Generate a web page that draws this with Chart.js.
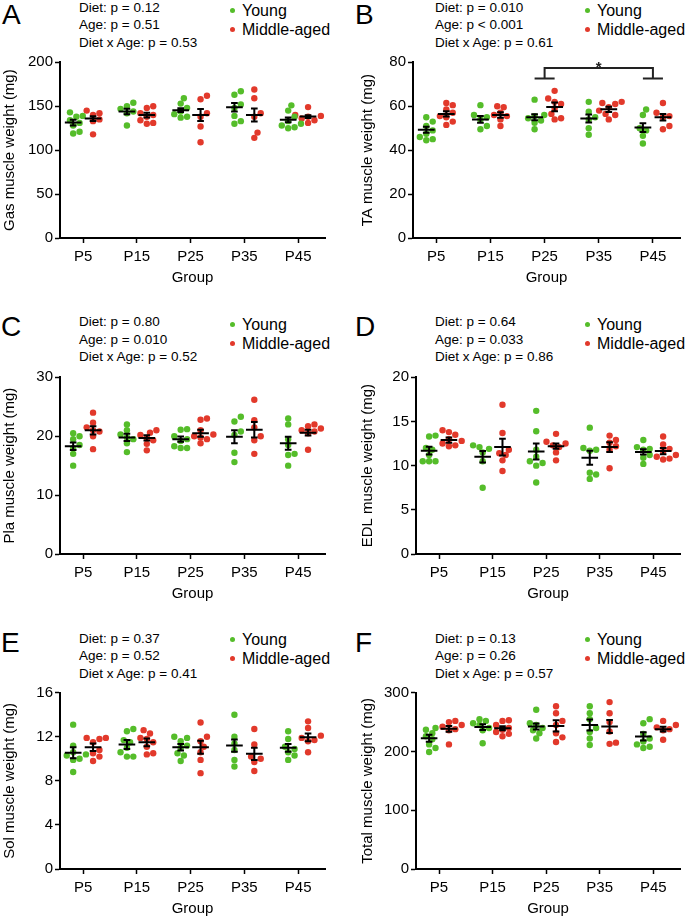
<!DOCTYPE html>
<html>
<head>
<meta charset="utf-8">
<script src="https://cdn.jsdelivr.net/npm/chart.js@4.4.1/dist/chart.umd.min.js"></script>
<style>
  body { margin: 0; width: 685px; height: 919px; position: relative; background: #fff; overflow: hidden;
         font-family: Arial, 'Liberation Sans', sans-serif; color: #000; }
  .box { position: absolute; }
  .letter { position: absolute; font-size: 28px; line-height: 28px; }
  .stats { position: absolute; font-size: 13.5px; line-height: 17.5px; white-space: nowrap; }
  .leg { position: absolute; font-size: 16px; line-height: 19px; white-space: nowrap; }
  .dot { position: absolute; width: 5px; height: 5px; border-radius: 50%; }
</style>
</head>
<body>
<script>
// groups on the x axis
const groups = ['P5', 'P15', 'P25', 'P35', 'P45'];

// A - Gas
const gasYoung = [
  [143, 139, 138, 134, 131, 128, 121, 119],
  [154, 150, 147, 144, 142, 128],
  [159, 153, 148, 144, 141, 138, 137],
  [167, 163, 152, 148, 139, 133, 130],
  [151, 145, 138, 133, 130, 128, 126, 125]
];
const gasMiddle = [
  [145, 142, 140, 135, 133, 118],
  [150, 148, 142, 140, 138, 134, 131, 130],
  [162, 158, 142, 138, 127, 109],
  [169, 159, 142, 138, 120, 114],
  [149, 140, 139, 138, 136, 134, 131]
];
const gasMeanYoung = [131.4, 144, 145.5, 148.8, 134.5];
const gasSemYoung = [3.2, 3.0, 2.2, 4.8, 2.8];
const gasMeanMiddle = [135.9, 140, 140, 140, 138.2];
const gasSemMiddle = [2.7, 2.7, 6.8, 7.5, 1.5];

// B - TA
const taYoung = [
  [55, 53, 51, 49, 47.5, 46, 45, 44.5],
  [60.5, 56, 55, 54, 51, 49.5],
  [63, 56, 55.5, 54.5, 53.5, 52.5, 49.5],
  [62, 57.5, 55, 54, 50, 47],
  [58.5, 56, 50, 49, 46.5, 43]
];
const taMiddle = [
  [61.5, 60.5, 58.5, 57, 55.5, 55, 53, 51.5],
  [60, 59.5, 57, 56, 55.5, 54, 51],
  [67, 63.5, 62, 61, 59, 56.5, 54.5, 54],
  [62, 61.5, 61, 59.5, 58, 56.5, 56, 54],
  [61.5, 57, 55.5, 55, 51, 49.5]
];
const taMeanYoung = [49.3, 54, 55, 54.4, 50.3];
const taSemYoung = [1.4, 1.5, 1.4, 1.8, 2.0];
const taMeanMiddle = [56.5, 56, 59.7, 58.6, 55];
const taSemMiddle = [1.2, 1.2, 2.0, 1.2, 1.5];

// C - Pla
const plaYoung = [
  [20.5, 20, 19.5, 18.5, 18, 17, 15],
  [22, 21, 20.3, 19.8, 19.5, 18.8, 17.3],
  [21.2, 21.1, 20, 19.5, 19.2, 18.3, 18, 18],
  [23.3, 22.5, 20.8, 20.2, 17.2, 15.6],
  [23, 22, 19.5, 18.5, 17, 16.8, 15]
];
const plaMiddle = [
  [24, 22.3, 21.5, 21, 20.8, 20, 17.8],
  [21, 20.6, 20.2, 19.7, 19.3, 18.7, 17.6],
  [23, 22.8, 21, 20.3, 20, 19.8, 19.5, 18.8],
  [26.2, 22.7, 21.5, 20, 19.3, 17],
  [22, 21.7, 21.3, 21, 20.8, 20.5, 17.7]
];
const plaMeanYoung = [18.3, 19.8, 19.5, 19.9, 18.8];
const plaSemYoung = [0.65, 0.6, 0.45, 1.1, 1.1];
const plaMeanMiddle = [21.0, 19.7, 20.5, 21.1, 20.6];
const plaSemMiddle = [0.7, 0.45, 0.6, 1.3, 0.5];

// D - EDL
const edlYoung = [
  [13.3, 13.4, 12, 11.8, 11.2, 10.5, 10.5, 10.5],
  [12.3, 12.1, 11.9, 11.5, 10.5, 7.5],
  [16.2, 13.9, 11.8, 11, 10.5, 10.3, 10, 8.1],
  [14.3, 12, 11.8, 11.7, 9.2, 9, 8.5],
  [12.9, 12.1, 11.9, 11.8, 11.2, 10.9, 10.2]
];
const edlMiddle = [
  [14, 13.8, 13.5, 13, 12.8, 12.5, 12.3, 12.2],
  [16.9, 13.7, 11.8, 11.4, 11.2, 10.6, 9.4],
  [13.6, 12.7, 12.5, 12.3, 12.1, 11.5, 10.6],
  [13.4, 12.9, 12.6, 12.2, 11.8, 9.7],
  [13.3, 12.4, 11.9, 11.6, 11.2, 11, 10.8, 10.7]
];
const edlMeanYoung = [11.7, 11.0, 11.6, 10.9, 11.55];
const edlSemYoung = [0.45, 0.65, 0.9, 0.8, 0.3];
const edlMeanMiddle = [12.9, 12.1, 12.2, 12.1, 11.65];
const edlSemMiddle = [0.3, 0.95, 0.3, 0.55, 0.35];

// E - Sol
const solYoung = [
  [13.1, 11.2, 10.6, 10.4, 10.3, 10, 9.9, 8.8],
  [12.7, 12.5, 11.7, 11.5, 11, 10.6, 10.2, 10.2],
  [12, 11.9, 11.6, 11.2, 11, 10.5, 10.3, 9.8],
  [14, 12, 11.4, 10.8, 9.9, 9.3],
  [12.5, 11.8, 11.1, 10.9, 10.6, 10.3, 9.9]
];
const solMiddle = [
  [11.9, 11.9, 11.8, 11.5, 10.8, 10.5, 10.2, 9.8],
  [12.6, 12.3, 11.9, 11.8, 11.5, 11.1, 10.5, 10.4],
  [13.3, 12, 11.6, 11.1, 10.6, 9.9, 8.7],
  [12.7, 11.3, 10.2, 10, 9.7, 8.9],
  [13.4, 12.8, 12.1, 11.9, 11.7, 11.6, 10.6]
];
const solMeanYoung = [10.55, 11.3, 11.05, 11.2, 11.0];
const solSemYoung = [0.5, 0.4, 0.3, 0.55, 0.35];
const solMeanMiddle = [11.05, 11.5, 11.05, 10.45, 11.95];
const solSemMiddle = [0.35, 0.35, 0.6, 0.55, 0.35];

// F - Total
const totYoung = [
  [240, 237, 231, 226, 221, 212, 206, 199],
  [255, 252, 248, 245, 240, 236, 214],
  [271, 248, 245, 240, 236, 231, 222],
  [277, 265, 255, 240, 233, 222, 211],
  [255, 248, 230, 222, 217, 212, 208, 206]
];
const totMiddle = [
  [252, 250, 245, 242, 238, 236, 212],
  [253, 252, 245, 240, 237, 233, 230, 226],
  [277, 265, 252, 245, 231, 224, 216],
  [284, 265, 250, 234, 215, 213],
  [252, 245, 241, 238, 236, 220]
];
const totMeanYoung = [222.5, 241.5, 242.5, 245, 225.5];
const totSemYoung = [6, 5, 5, 9.5, 7];
const totMeanMiddle = [238.5, 239.5, 243.5, 242.5, 238];
const totSemMiddle = [5, 3.5, 9.5, 11, 4];

// p-value annotations
const gasStats = ['Diet: p = 0.12', 'Age: p = 0.51', 'Diet x Age: p = 0.53'];
const taStats = ['Diet: p = 0.010', 'Age: p < 0.001', 'Diet x Age: p = 0.61'];
const plaStats = ['Diet: p = 0.80', 'Age: p = 0.010', 'Diet x Age: p = 0.52'];
const edlStats = ['Diet: p = 0.64', 'Age: p = 0.033', 'Diet x Age: p = 0.86'];
const solStats = ['Diet: p = 0.37', 'Age: p = 0.52', 'Diet x Age: p = 0.41'];
const totStats = ['Diet: p = 0.13', 'Age: p = 0.26', 'Diet x Age: p = 0.57'];

// significance bracket in panel B (P25 vs P45)
const taSigGroups = [2, 4];
const taSigLabel = '*';

const seriesNames = ['Young', 'Middle-aged'];
const GREEN = '#55bd2a';
const RED = '#e2392b';
const FONT = "Arial, 'Liberation Sans', sans-serif";
const SHIFT = [-0.185, 0.185];   // young left, middle-aged right of the tick
const PX_PER_CAT = 53.8;
const PLOT_H = 176.5;

// simple beeswarm: spread dots with close values sideways (returns category-unit offsets)
function swarm(vals, yMax) {
  const k = PLOT_H / yMax;
  const placed = [];
  const out = new Array(vals.length);
  const order = vals.map((v, i) => i).sort((a, b) => vals[a] - vals[b]);
  order.forEach(i => {
    const py = vals[i] * k;
    let dx = 0;
    for (let j = 0; j < 14; j++) {
      dx = j === 0 ? 0 : (j % 2 ? 1 : -1) * Math.ceil(j / 2) * 3.2;
      const hit = placed.some(p => (p.x - dx) ** 2 + (p.y - py) ** 2 < 5.8 * 5.8);
      if (!hit) break;
    }
    placed.push({ x: dx, y: py });
    out[i] = dx / PX_PER_CAT;
  });
  return out;
}

function points(sets, si, yMax) {
  const pts = [];
  sets.forEach((vals, g) => {
    const off = swarm(vals, yMax);
    vals.forEach((v, i) => pts.push({ x: g + SHIFT[si] + off[i], y: v }));
  });
  return pts;
}

function addText(cls, left, top, text) {
  const d = document.createElement('div');
  d.className = cls;
  d.style.left = left + 'px';
  d.style.top = top + 'px';
  d.textContent = text;
  document.body.appendChild(d);
}

function makePanel(p) {
  // panel letter, stats and legend as plain text
  addText('letter', p.letterX, p.letterY, p.letter);
  p.stats.forEach((s, i) => addText('stats', p.statsX, p.statsY + i * 17.5, s));
  [GREEN, RED].forEach((c, i) => {
    const cy = p.legY + i * 19;
    const d = document.createElement('div');
    d.className = 'dot';
    d.style.background = c;
    d.style.left = (p.legX - 2.5) + 'px';
    d.style.top = (cy - 2.5) + 'px';
    document.body.appendChild(d);
    addText('leg', p.legX + 10, cy - 9.5, seriesNames[i]);
  });

  const box = document.createElement('div');
  box.className = 'box';
  box.style.left = p.left + 'px';
  box.style.top = p.top + 'px';
  const canvas = document.createElement('canvas');
  canvas.width = p.width;
  canvas.height = p.height;
  box.appendChild(canvas);
  document.body.appendChild(box);

  const meanBars = {
    id: 'meanBars' + p.letter,
    afterDatasetsDraw(chart) {
      const { ctx, scales: { x, y } } = chart;
      const unit = x.getPixelForValue(1) - x.getPixelForValue(0);
      ctx.save();
      ctx.strokeStyle = '#000';
      ctx.lineWidth = 2;
      [[p.meanY, p.semY], [p.meanM, p.semM]].forEach(([means, sems], si) => {
        means.forEach((m, g) => {
          const cx = x.getPixelForValue(g + SHIFT[si]);
          const ym = y.getPixelForValue(m);
          const yt = y.getPixelForValue(m + sems[g]);
          const yb = y.getPixelForValue(m - sems[g]);
          const hw = 0.155 * unit, cw = 0.062 * unit;
          ctx.beginPath();
          ctx.moveTo(cx - hw, ym); ctx.lineTo(cx + hw, ym);
          ctx.moveTo(cx, yt); ctx.lineTo(cx, yb);
          ctx.moveTo(cx - cw, yt); ctx.lineTo(cx + cw, yt);
          ctx.moveTo(cx - cw, yb); ctx.lineTo(cx + cw, yb);
          ctx.stroke();
        });
      });
      if (p.sig) {
        const [g1, g2] = p.sig.groups;
        const yTop = y.getPixelForValue(p.sig.top);
        const yLow = y.getPixelForValue(p.sig.low);
        ctx.strokeStyle = '#222';
        ctx.beginPath();
        ctx.moveTo(x.getPixelForValue(g1), yLow);
        ctx.lineTo(x.getPixelForValue(g1), yTop);
        ctx.lineTo(x.getPixelForValue(g2), yTop);
        ctx.lineTo(x.getPixelForValue(g2), yLow);
        [g1, g2].forEach(g => {
          ctx.moveTo(x.getPixelForValue(g + SHIFT[0]), yLow);
          ctx.lineTo(x.getPixelForValue(g + SHIFT[1]), yLow);
        });
        ctx.stroke();
        ctx.fillStyle = '#222';
        ctx.font = 'bold 15px ' + FONT;
        ctx.textAlign = 'center';
        ctx.textBaseline = 'alphabetic';
        ctx.fillText(p.sig.label, x.getPixelForValue((g1 + g2) / 2), yTop + 4);
      }
      ctx.restore();
    }
  };

  new Chart(canvas, {
    type: 'scatter',
    data: {
      datasets: [
        { label: seriesNames[0], data: points(p.young, 0, p.max), backgroundColor: GREEN, borderWidth: 0, pointRadius: 3.2 },
        { label: seriesNames[1], data: points(p.middle, 1, p.max), backgroundColor: RED, borderWidth: 0, pointRadius: 3.2 }
      ]
    },
    options: {
      responsive: false,
      animation: false,
      layout: { padding: { top: p.padTop, right: p.padRight, left: 0, bottom: 0 } },
      plugins: { legend: { display: false }, tooltip: { enabled: false } },
      scales: {
        x: {
          type: 'linear',
          min: -0.43,
          max: 4.5,
          afterBuildTicks: s => { s.ticks = groups.map((_, i) => ({ value: i })); },
          afterFit: s => { s.height = 50; },
          ticks: { callback: v => groups[v], autoSkip: false, maxRotation: 0, color: '#000', padding: 5,
                   font: { family: FONT, size: 15 } },
          grid: { drawOnChartArea: false, drawTicks: true, tickLength: 5, tickWidth: 1.5, tickColor: '#000' },
          border: { display: true, color: '#000', width: 2 },
          title: { display: true, text: 'Group', color: '#000', font: { family: FONT, size: 15 },
                   padding: { top: 0, bottom: 1 } }
        },
        y: {
          min: 0,
          max: p.max,
          afterFit: s => { s.width = p.yW; },
          ticks: { stepSize: p.step, color: '#000', padding: 2, font: { family: FONT, size: 15 } },
          grid: { drawOnChartArea: false, drawTicks: true, tickLength: 5, tickWidth: 1.5, tickColor: '#000' },
          border: { display: true, color: '#000', width: 2 },
          title: { display: true, text: p.title, color: '#000', font: { family: FONT, size: 15 },
                   padding: { top: 1, bottom: 0 } }
        }
      }
    },
    plugins: [meanBars]
  });
}

const panels = [
  { letter: 'A', young: gasYoung, middle: gasMiddle, meanY: gasMeanYoung, semY: gasSemYoung,
    meanM: gasMeanMiddle, semM: gasSemMiddle, max: 200, step: 50, title: 'Gas muscle weight (mg)',
    stats: gasStats, left: 0, top: 50, width: 335, height: 238, yW: 60, padTop: 12.3, padRight: 10,
    letterX: 2, letterY: 1, statsX: 79, statsY: -1.5, legX: 232, legY: 10 },
  { letter: 'B', young: taYoung, middle: taMiddle, meanY: taMeanYoung, semY: taSemYoung,
    meanM: taMeanMiddle, semM: taSemMiddle, max: 80, step: 20, title: 'TA muscle weight (mg)',
    stats: taStats, left: 358, top: 50, width: 327, height: 238, yW: 55, padTop: 12.3, padRight: 5,
    letterX: 355, letterY: 1, statsX: 435, statsY: -1.5, legX: 587, legY: 10,
    sig: { groups: taSigGroups, top: 77.4, low: 72.6, label: taSigLabel } },
  { letter: 'C', young: plaYoung, middle: plaMiddle, meanY: plaMeanYoung, semY: plaSemYoung,
    meanM: plaMeanMiddle, semM: plaSemMiddle, max: 30, step: 10, title: 'Pla muscle weight (mg)',
    stats: plaStats, left: 0, top: 365, width: 335, height: 239, yW: 60, padTop: 12.3, padRight: 10,
    letterX: 1, letterY: 313, statsX: 79, statsY: 313, legX: 232, legY: 324 },
  { letter: 'D', young: edlYoung, middle: edlMiddle, meanY: edlMeanYoung, semY: edlSemYoung,
    meanM: edlMeanMiddle, semM: edlSemMiddle, max: 20, step: 5, title: 'EDL muscle weight (mg)',
    stats: edlStats, left: 358, top: 365, width: 327, height: 239, yW: 58, padTop: 12.3, padRight: 5,
    letterX: 355, letterY: 313, statsX: 435, statsY: 313, legX: 587, legY: 324 },
  { letter: 'E', young: solYoung, middle: solMiddle, meanY: solMeanYoung, semY: solSemYoung,
    meanM: solMeanMiddle, semM: solSemMiddle, max: 16, step: 4, title: 'Sol muscle weight (mg)',
    stats: solStats, left: 0, top: 680, width: 335, height: 239, yW: 60, padTop: 12.7, padRight: 10,
    letterX: 1, letterY: 628.5, statsX: 79, statsY: 629.5, legX: 232, legY: 639.3 },
  { letter: 'F', young: totYoung, middle: totMiddle, meanY: totMeanYoung, semY: totSemYoung,
    meanM: totMeanMiddle, semM: totSemMiddle, max: 300, step: 100, title: 'Total muscle weight (mg)',
    stats: totStats, left: 358, top: 680, width: 327, height: 239, yW: 58, padTop: 12.7, padRight: 5,
    letterX: 355, letterY: 628.5, statsX: 435, statsY: 629.5, legX: 587, legY: 639.3 }
];

panels.forEach(makePanel);
</script>
</body>
</html>
